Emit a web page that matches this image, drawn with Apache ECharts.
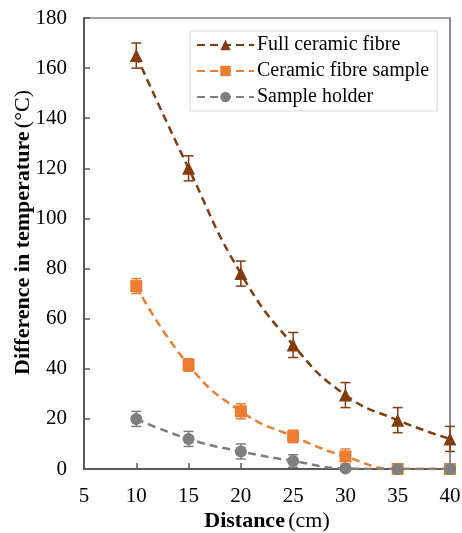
<!DOCTYPE html>
<html>
<head>
<meta charset="utf-8">
<script src="https://cdn.jsdelivr.net/npm/echarts@6/dist/echarts.min.js"></script>
<style>
  html, body { margin: 0; padding: 0; background: #fff; }
  #chart { width: 462px; height: 533px; }
</style>
</head>
<body>
<div id="chart"></div>
<script>
// Distance from the heat source (cm)
const distances = [10, 15, 20, 25, 30, 35, 40];

// Temperature difference (°C) and error half-widths for each configuration
const fullFibre = [165, 120, 78, 49.5, 29.5, 19.5, 12];
const fullFibreErr = [5, 5, 5, 5, 5, 5, 5];

const fibreSample = [73, 41.5, 23, 13, 5, 0, 0];
const fibreSampleErr = [3, 2.5, 3, 2.5, 3, 1, 1];

const holder = [20, 12, 7, 3.2, 0.2, 0, 0];
const holderErr = [3, 3, 3, 2.5, 1, 2, 2];

const xTicks = { min: 5, max: 40, interval: 5 };
const yTicks = { min: 0, max: 180, interval: 20 };

const FONT = '"Liberation Serif", "Times New Roman", serif';
const colors = { full: '#843C0C', sample: '#ED7D31', holder: '#7F7F7F' };

function pairs(values) {
  return distances.map((d, i) => [d, values[i]]);
}

function errorData(values, errs) {
  return distances.map((d, i) => [d, values[i], values[i] - errs[i], values[i] + errs[i]]);
}

function errorBars(name, values, errs, color) {
  return {
    type: 'custom',
    name: name + ' error',
    data: errorData(values, errs),
    encode: { x: 0, y: [1, 2, 3] },
    z: 3,
    silent: true,
    renderItem: function (params, api) {
      const x = api.value(0);
      const lo = api.coord([x, api.value(2)]);
      const hi = api.coord([x, api.value(3)]);
      const half = 5;
      const style = { stroke: color, lineWidth: 1.5 };
      return {
        type: 'group',
        children: [
          { type: 'line', shape: { x1: lo[0], y1: lo[1], x2: hi[0], y2: hi[1] }, style: style },
          { type: 'line', shape: { x1: hi[0] - half, y1: hi[1], x2: hi[0] + half, y2: hi[1] }, style: style },
          { type: 'line', shape: { x1: lo[0] - half, y1: lo[1], x2: lo[0] + half, y2: lo[1] }, style: style }
        ]
      };
    }
  };
}

function lineSeries(name, values, color, symbol, size, z) {
  return {
    type: 'line',
    name: name,
    data: pairs(values),
    smooth: 0.5,
    symbol: symbol,
    symbolSize: size,
    showAllSymbol: true,
    z: z,
    itemStyle: { color: color },
    lineStyle: { color: color, width: 2.5, type: [8, 5] }
  };
}

const axisTitleRich = {
  b: { fontFamily: FONT, fontSize: 22, fontWeight: 'bold', color: '#000' },
  n: { fontFamily: FONT, fontSize: 22, color: '#000' }
};

const chart = echarts.init(document.getElementById('chart'), null, { renderer: 'canvas' });

chart.setOption({
  animation: false,
  backgroundColor: '#ffffff',
  grid: {
    left: 84, right: 12, top: 18, bottom: 64,
    containLabel: false,
    outerBoundsMode: 'none',
    show: true, borderColor: '#404040', borderWidth: 1.2
  },
  legend: {
    left: 190, top: 31,
    orient: 'vertical',
    itemWidth: 57, itemHeight: 13,
    itemGap: 6,
    padding: [4, 8, 4, 6],
    borderColor: '#d9d9d9', borderWidth: 1,
    backgroundColor: '#ffffff',
    data: ['Full ceramic fibre', 'Ceramic fibre sample', 'Sample holder'],
    textStyle: { fontFamily: FONT, fontSize: 20, color: '#000', padding: [0, 0, 0, -2] }
  },
  xAxis: {
    type: 'value',
    min: xTicks.min, max: xTicks.max, interval: xTicks.interval,
    name: '{b|Distance} {n|(cm)}',
    nameLocation: 'middle',
    nameGap: 41,
    nameMoveOverlap: false,
    nameTextStyle: { rich: axisTitleRich },
    splitLine: { show: false },
    axisLine: { lineStyle: { color: '#595959', width: 2 } },
    axisTick: { show: true, inside: true, length: 6, lineStyle: { color: '#595959', width: 1.5 } },
    axisLabel: { fontFamily: FONT, fontSize: 21, color: '#000', margin: 17 }
  },
  yAxis: {
    type: 'value',
    min: yTicks.min, max: yTicks.max, interval: yTicks.interval,
    name: '{b|Difference in temperature} {n|(°C)}',
    nameLocation: 'middle',
    nameRotate: 90,
    nameGap: 50,
    nameMoveOverlap: false,
    nameTextStyle: { rich: axisTitleRich, padding: [0, 0, 0, 22] },
    splitLine: { show: false },
    axisLine: { show: true, lineStyle: { color: '#595959', width: 2 } },
    axisTick: { show: true, inside: true, length: 6, lineStyle: { color: '#595959', width: 1.5 } },
    axisLabel: { fontFamily: FONT, fontSize: 21, color: '#000', margin: 17 }
  },
  series: [
    errorBars('Full ceramic fibre', fullFibre, fullFibreErr, colors.full),
    errorBars('Ceramic fibre sample', fibreSample, fibreSampleErr, colors.sample),
    errorBars('Sample holder', holder, holderErr, colors.holder),
    lineSeries('Full ceramic fibre', fullFibre, colors.full, 'triangle', 13, 4),
    lineSeries('Ceramic fibre sample', fibreSample, colors.sample, 'rect', 12, 5),
    lineSeries('Sample holder', holder, colors.holder, 'circle', 12, 6)
  ]
});
</script>
</body>
</html>
